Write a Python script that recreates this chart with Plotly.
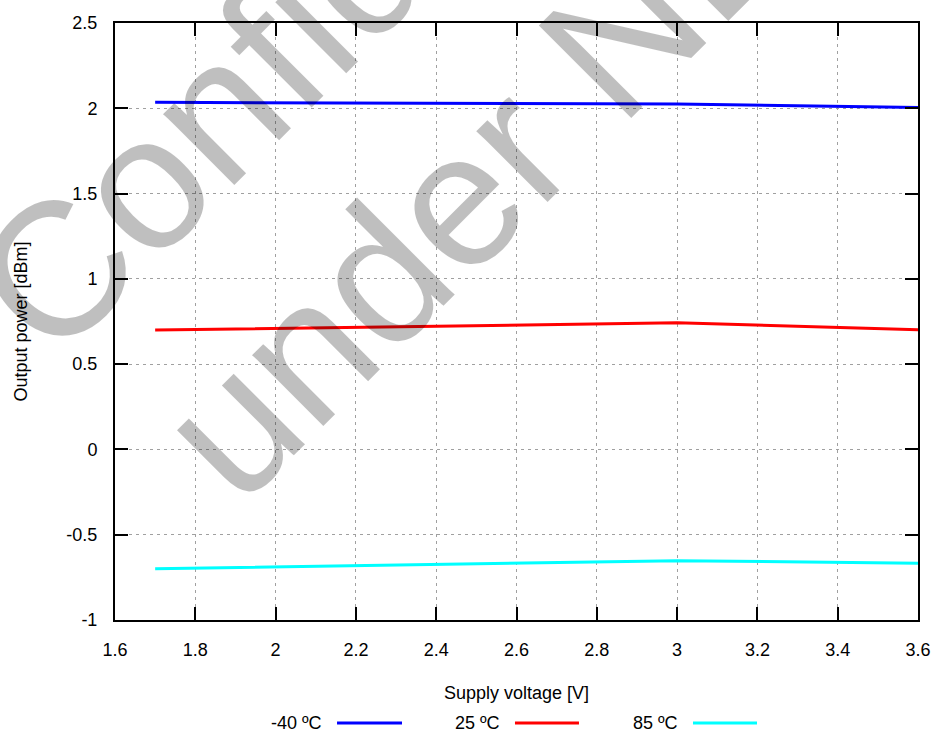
import plotly.graph_objects as go

# ---- data ----
supply_voltage = [1.7, 3.0, 3.6]
power_m40 = [2.035, 2.025, 2.005]
power_25 = [0.70, 0.742, 0.702]
power_85 = [-0.70, -0.652, -0.668]
series_names = ["-40 ºC", "25 ºC", "85 ºC"]
series_colors = ["#0000ff", "#ff0000", "#00ffff"]
x_ticks = [1.6, 1.8, 2.0, 2.2, 2.4, 2.6, 2.8, 3.0, 3.2, 3.4, 3.6]
x_tick_labels = ["1.6", "1.8", "2", "2.2", "2.4", "2.6", "2.8", "3", "3.2", "3.4", "3.6"]
y_ticks = [-1, -0.5, 0, 0.5, 1, 1.5, 2, 2.5]
y_tick_labels = ["-1", "-0.5", "0", "0.5", "1", "1.5", "2", "2.5"]
watermark_lines = ["Confidential", "under NDA"]

FONT = "Liberation Sans, Arial, sans-serif"
FS = 18

fig = go.Figure()
for name, ys, col in zip(series_names, [power_m40, power_25, power_85], series_colors):
    fig.add_trace(go.Scatter(x=supply_voltage, y=ys, mode="lines", name=name,
                             line=dict(color=col, width=3), showlegend=False))

axis_common = dict(
    showline=True, linecolor="black", linewidth=2, mirror="ticks",
    ticks="inside", ticklen=13, tickwidth=2, tickcolor="black",
    showgrid=True, gridcolor="#a0a0a0", gridwidth=1, griddash="3px,4px",
    zeroline=False, automargin=False,
    tickfont=dict(family=FONT, size=FS, color="black"),
)

fig.update_xaxes(range=[1.6, 3.6], tickvals=x_ticks, ticktext=x_tick_labels,
                 ticklabelstandoff=12,
                 title=dict(text="Supply voltage [V]", font=dict(family=FONT, size=FS, color="black"), standoff=28),
                 **axis_common)
fig.update_yaxes(range=[-1, 2.5], tickvals=y_ticks, ticktext=y_tick_labels,
                 ticklabelstandoff=12,
                 title=dict(text="Output power [dBm]", font=dict(family=FONT, size=FS, color="black"), standoff=34),
                 **axis_common)

# custom legend: text followed by line sample
legend_text_x = [0.2603, 0.482, 0.7036]
legend_line_x = [(0.2765, 0.3574), (0.4981, 0.5778), (0.7198, 0.7995)]
legend_y = -0.1725
shapes = []
annotations = []
for name, col, tx, (x0, x1) in zip(series_names, series_colors, legend_text_x, legend_line_x):
    annotations.append(dict(text=name, x=tx, y=legend_y, xref="paper", yref="paper",
                            xanchor="right", yanchor="middle", showarrow=False,
                            font=dict(family=FONT, size=FS, color="black")))
    shapes.append(dict(type="line", xref="paper", yref="paper", x0=x0, x1=x1,
                       y0=legend_y, y1=legend_y, line=dict(color=col, width=3)))

# watermark
wm_font = dict(family=FONT, size=190, color="rgba(0,0,0,0.25)")
for txt, wx, wy in zip(watermark_lines, [0.3064, 0.5106], [1.097, 0.819]):
    annotations.append(dict(text=txt, x=wx, y=wy, xref="paper", yref="paper",
                            showarrow=False, textangle=-45, font=wm_font,
                            xanchor="center", yanchor="middle"))

fig.update_layout(
    width=935, height=734,
    margin=dict(l=115, r=17, t=23, b=114),
    paper_bgcolor="white", plot_bgcolor="white",
    font=dict(family=FONT, size=FS, color="black"),
    shapes=shapes, annotations=annotations,
)

fig.write_html("out.html", config={"displayModeBar": False},
               post_script="document.body.style.margin='0';")
